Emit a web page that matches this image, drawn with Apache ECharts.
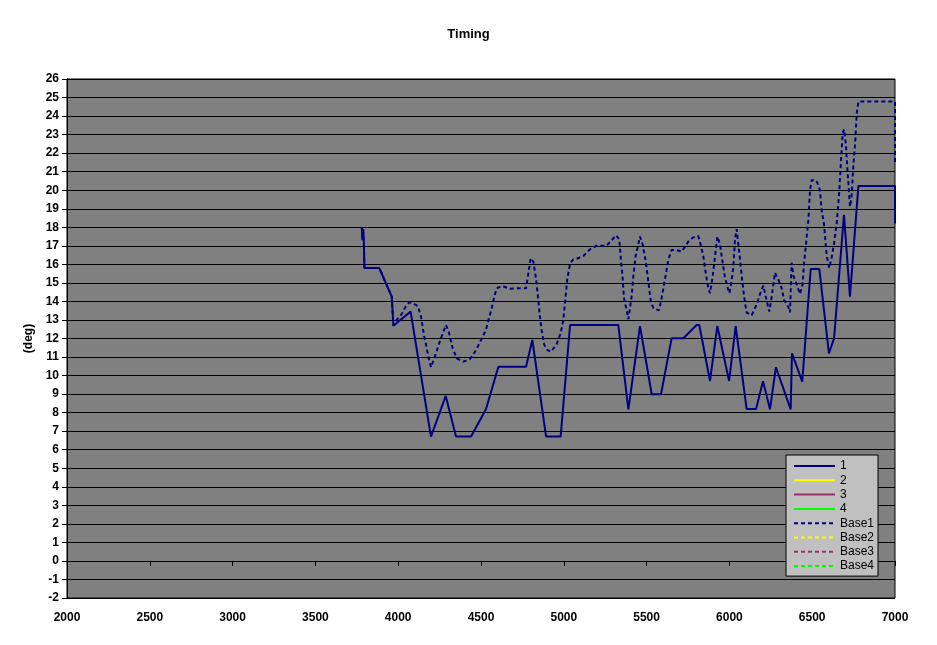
<!DOCTYPE html>
<html>
<head>
<meta charset="utf-8">
<script src="https://cdn.jsdelivr.net/npm/echarts@6/dist/echarts.min.js"></script>
<style>html,body{margin:0;padding:0;background:#fff}#c{width:937px;height:645px}</style>
</head>
<body>
<div id="c"></div>
<script>
const titleText = "Timing";
const yAxisName = "(deg)";
const seriesNames = ["1", "2", "3", "4", "Base1", "Base2", "Base3", "Base4"];
const seriesColors = ["#000080", "#ffff00", "#993366", "#00ff00", "#000080", "#ffff00", "#993366", "#00ff00"];

const rpm1 = [3780,3784,3788,3792,3796,3886,3961,3971,4075,4198,4287,4349,4440,4530,4605,4772,4810,4893,4981,5038,5329,5390,5460,5531,5587,5651,5722,5802,5818,5883,5927,5998,6038,6104,6161,6203,6245,6281,6370,6378,6440,6491,6543,6601,6632,6692,6728,6779,7000,7000];
const timing1 = [18.0,17.3,17.9,17.4,15.8,15.8,14.26,12.69,13.45,6.71,8.9,6.71,6.71,8.18,10.48,10.48,11.92,6.71,6.71,12.73,12.73,8.18,12.67,8.99,8.99,12.01,12.01,12.73,12.73,9.71,12.67,9.71,12.67,8.2,8.2,9.7,8.18,10.45,8.18,11.2,9.67,15.75,15.75,11.2,12.01,18.67,14.26,20.23,20.23,18.2];

const rpmBase1 = [3780,3784,3788,3792,3796,3886,3961,3971,3990,4020,4045,4065,4080,4118,4138,4156,4168,4182,4198,4232,4248,4268,4289,4307,4329,4353,4393,4434,4470,4500,4530,4548,4564,4580,4595,4625,4675,4715,4772,4786,4800,4816,4832,4846,4856,4866,4882,4902,4923,4957,4981,4997,5007,5021,5038,5058,5078,5118,5158,5199,5259,5269,5289,5315,5335,5343,5355,5363,5376,5390,5410,5420,5434,5450,5460,5476,5496,5510,5525,5541,5575,5591,5611,5631,5651,5672,5712,5732,5752,5782,5812,5822,5843,5859,5873,5883,5899,5913,5927,5943,5959,5973,5994,6000,6014,6024,6034,6044,6060,6074,6088,6104,6135,6165,6185,6205,6221,6241,6258,6275,6296,6316,6330,6356,6366,6376,6386,6406,6426,6442,6450,6463,6477,6487,6497,6527,6547,6557,6571,6587,6603,6618,6632,6648,6664,6674,6684,6692,6704,6712,6720,6728,6738,6748,6759,6769,6779,7000,7000];
const timingBase1 = [18.0,17.4,17.9,17.3,15.8,15.8,14.26,12.69,13.0,13.3,13.72,13.94,13.94,13.76,13.18,12.14,11.66,11.02,10.45,11.3,11.75,12.25,12.73,12.3,11.47,10.93,10.75,10.9,11.37,11.91,12.46,13.09,13.6,14.26,14.71,14.83,14.68,14.71,14.71,15.5,16.33,16.15,15.25,14.08,13.18,12.46,11.66,11.37,11.29,11.7,12.28,12.99,13.9,15.2,16.06,16.27,16.3,16.45,16.81,17.01,17.01,16.95,17.3,17.57,17.35,16.45,15.28,14.2,13.66,13.04,14.3,15.38,16.45,17.08,17.5,17.08,16.1,15.1,14.03,13.63,13.52,14.2,15.2,16.24,16.78,16.78,16.69,16.95,17.23,17.46,17.53,17.23,16.42,15.42,14.7,14.44,15.34,16.42,17.5,17.1,16.1,15.3,14.6,14.44,15.15,15.87,17.4,17.9,16.6,15.4,14.3,13.4,13.26,13.85,14.4,14.85,14.2,13.45,14.4,15.55,15.16,14.7,14.08,13.7,13.4,16.09,15.4,14.93,14.4,14.93,16.0,17.14,18.4,20.01,20.55,20.5,20.0,18.9,18.2,16.51,15.8,16.4,17.14,18.2,20.0,21.63,23.07,23.28,22.4,21.2,20.2,19.11,19.65,21.27,22.5,24.15,24.78,24.78,21.45];

const xMin = 2000, xMax = 7000, xStep = 500;
const yMin = -2, yMax = 26, yStep = 1;

function zip(a, b) { return a.map((v, i) => [v, b[i]]); }
const seriesData = [zip(rpm1, timing1), [], [], [], zip(rpmBase1, timingBase1), [], [], []];

const FONT = "'Liberation Sans', Arial, sans-serif";
const chart = echarts.init(document.getElementById('c'), null, { renderer: 'canvas' });
chart.setOption({
  animation: false,
  backgroundColor: '#ffffff',
  title: {
    text: titleText, left: 'center', top: 23,
    textStyle: { fontFamily: FONT, fontSize: 13, fontWeight: 'bold', color: '#000' }
  },
  grid: { left: 67, right: 42, top: 79, bottom: 47, show: true, backgroundColor: '#808080', borderColor: '#000', borderWidth: 1 },
  legend: {
    orient: 'vertical', left: 786, top: 455,
    backgroundColor: '#c0c0c0', borderColor: '#000', borderWidth: 1, borderRadius: 0,
    padding: [4, 4, 3, 7],
    itemWidth: 41, itemHeight: 14, itemGap: 0.3, itemTextGap: 4,
    itemStyle: { opacity: 0, borderWidth: 0 },
    textStyle: { fontFamily: FONT, fontSize: 12, color: '#000', lineHeight: 14 },
    data: seriesNames.map(n => ({ name: n })),
  },
  xAxis: {
    type: 'value', min: xMin, max: xMax, interval: xStep,
    axisLine: { show: true, lineStyle: { color: '#000', width: 1 } },
    axisTick: { show: true, inside: false, length: 5, lineStyle: { color: '#000' } },
    axisLabel: { fontFamily: FONT, fontSize: 12, fontWeight: 'bold', color: '#000', margin: 14, formatter: v => String(v) },
    splitLine: { show: false }
  },
  yAxis: {
    type: 'value', min: yMin, max: yMax, interval: yStep,
    name: yAxisName, nameLocation: 'middle', nameGap: 31, nameRotate: 90,
    nameTextStyle: { fontFamily: FONT, fontSize: 12, fontWeight: 'bold', color: '#000' },
    axisLine: { show: true, lineStyle: { color: '#000', width: 1 } },
    axisTick: { show: true, inside: false, length: 5, lineStyle: { color: '#000' } },
    axisLabel: { fontFamily: FONT, fontSize: 12, fontWeight: 'bold', color: '#000', margin: 8 },
    splitLine: { show: true, lineStyle: { color: '#000', width: 1 } }
  },
  series: seriesNames.map((n, i) => ({
    name: n, type: 'line', data: seriesData[i],
    symbol: 'none', showSymbol: false,
    color: seriesColors[i],
    lineStyle: { color: seriesColors[i], width: 2, type: i >= 4 ? [4, 3] : 'solid' },
    emphasis: { disabled: true }
  }))
});
</script>
</body>
</html>
